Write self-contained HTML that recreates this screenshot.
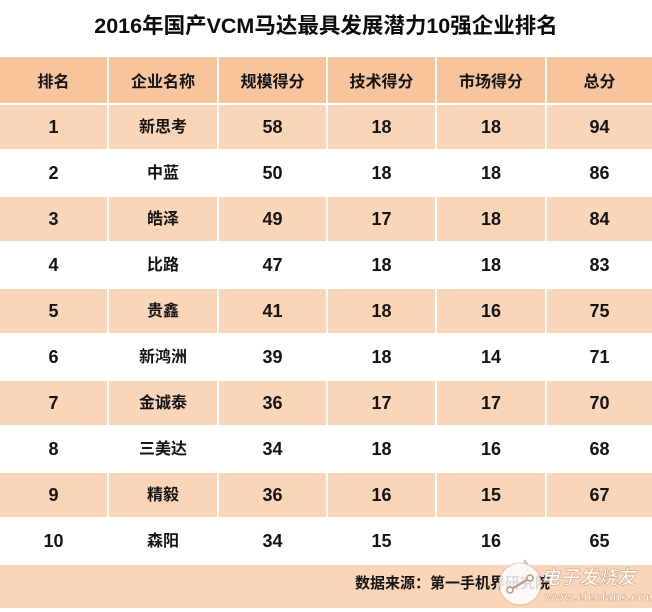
<!DOCTYPE html>
<html>
<head>
<meta charset="utf-8">
<style>
  html,body{margin:0;padding:0;background:#fff;}
  body{width:652px;height:612px;position:relative;overflow:hidden;
       font-family:"Liberation Sans","Noto Sans CJK SC",sans-serif;color:#141414;}
  .title{position:absolute;left:0;top:13px;width:652px;text-align:center;
         font-size:21.5px;line-height:26px;font-weight:700;white-space:nowrap;color:#0c0c0c;}
  .grid{position:absolute;left:0;top:57px;width:652px;display:grid;
        grid-template-columns:107px 110px 109px 109px 110px 107px;
        grid-auto-rows:46px;}
  .grid div{box-sizing:border-box;display:flex;align-items:center;justify-content:center;
            font-weight:700;white-space:nowrap;}
  .grid div.c{border-left:2px solid #fff;}
  .grid div.r{border-top:2px solid #fff;}
  .h{background:#F8C49C;font-size:16px;}
  .p{background:#FBD5B8;}
  .w{background:#fff;}
  .n{font-size:18px;}
  .z{font-size:16px;font-family:"Noto Sans CJK SC",sans-serif;}
  .z span{position:relative;top:-2px;}
  .foot{position:absolute;left:0;top:563px;width:652px;height:45px;background:#FBD5B8;border-top:2px solid #fff;box-sizing:border-box;}
  .foottext{position:absolute;left:355px;top:572px;font-size:15px;line-height:24px;font-weight:700;white-space:nowrap;}
  .wm1{position:absolute;left:541px;top:564px;font-size:19px;line-height:26px;font-style:italic;font-weight:700;
       color:rgba(255,255,255,0.85);-webkit-text-stroke:0.6px #c9a58a;white-space:nowrap;font-family:"Noto Sans CJK SC",sans-serif;}
  .wm2{position:absolute;left:545px;top:590px;font-size:12px;line-height:14px;font-weight:700;
       color:rgba(255,255,255,0.85);-webkit-text-stroke:0.5px #c9a58a;white-space:nowrap;letter-spacing:0.3px;}
</style>
</head>
<body>
<div class="title">2016年国产VCM马达最具发展潜力10强企业排名</div>

<div class="grid">
  <div class="h">排名</div><div class="h c">企业名称</div><div class="h c">规模得分</div><div class="h c">技术得分</div><div class="h c">市场得分</div><div class="h c">总分</div>

  <div class="p r n">1</div><div class="p r c z"><span>新思考</span></div><div class="p r c n">58</div><div class="p r c n">18</div><div class="p r c n">18</div><div class="p r c n">94</div>
  <div class="w r n">2</div><div class="w r c z"><span>中蓝</span></div><div class="w r c n">50</div><div class="w r c n">18</div><div class="w r c n">18</div><div class="w r c n">86</div>
  <div class="p r n">3</div><div class="p r c z"><span>皓泽</span></div><div class="p r c n">49</div><div class="p r c n">17</div><div class="p r c n">18</div><div class="p r c n">84</div>
  <div class="w r n">4</div><div class="w r c z"><span>比路</span></div><div class="w r c n">47</div><div class="w r c n">18</div><div class="w r c n">18</div><div class="w r c n">83</div>
  <div class="p r n">5</div><div class="p r c z"><span>贵鑫</span></div><div class="p r c n">41</div><div class="p r c n">18</div><div class="p r c n">16</div><div class="p r c n">75</div>
  <div class="w r n">6</div><div class="w r c z"><span>新鸿洲</span></div><div class="w r c n">39</div><div class="w r c n">18</div><div class="w r c n">14</div><div class="w r c n">71</div>
  <div class="p r n">7</div><div class="p r c z"><span>金诚泰</span></div><div class="p r c n">36</div><div class="p r c n">17</div><div class="p r c n">17</div><div class="p r c n">70</div>
  <div class="w r n">8</div><div class="w r c z"><span>三美达</span></div><div class="w r c n">34</div><div class="w r c n">18</div><div class="w r c n">16</div><div class="w r c n">68</div>
  <div class="p r n">9</div><div class="p r c z"><span>精毅</span></div><div class="p r c n">36</div><div class="p r c n">16</div><div class="p r c n">15</div><div class="p r c n">67</div>
  <div class="w r n">10</div><div class="w r c z"><span>森阳</span></div><div class="w r c n">34</div><div class="w r c n">15</div><div class="w r c n">16</div><div class="w r c n">65</div>
</div>

<div class="foot"></div>
<div class="foottext">数据来源：第一手机界研究院</div>

<svg style="position:absolute;left:490px;top:552px;" width="60" height="60" viewBox="0 0 60 60">
  <path d="M34 8 C40 14 38 22 32 24" fill="none" stroke="rgba(200,170,150,0.8)" stroke-width="2"/>
  <circle cx="30" cy="32" r="21" fill="rgba(255,255,255,0.85)" stroke="rgba(200,170,150,0.6)" stroke-width="1"/>
  <line x1="20" y1="38" x2="40" y2="26" stroke="#b89a86" stroke-width="2"/>
  <circle cx="20" cy="38" r="3" fill="#fff" stroke="#b89a86" stroke-width="1.5"/>
  <circle cx="40" cy="26" r="3" fill="#fff" stroke="#b89a86" stroke-width="1.5"/>
</svg>
<div class="wm1">电子发烧友</div>
<div class="wm2">www.elecfans.com</div>
</body>
</html>
